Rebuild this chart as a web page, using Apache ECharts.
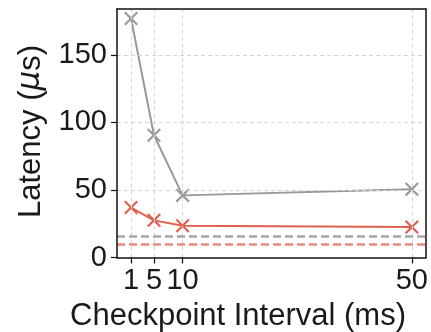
<!DOCTYPE html>
<html>
<head>
<meta charset="utf-8">
<script src="https://cdn.jsdelivr.net/npm/echarts@6/dist/echarts.min.js"></script>
<style>html,body{margin:0;padding:0;background:#fff}#c{width:431px;height:332px}</style>
</head>
<body>
<div id="c"></div>
<script>
var intervals = [1, 5, 10, 50];
var grayLatency = [177, 90.5, 46, 50.5];
var redLatency = [37, 27.5, 23.5, 22.5];
var grayBaseline = 15.7;
var redBaseline = 10;
var yTicks = [0, 50, 100, 150];

var FONT = '"Liberation Sans", Arial, sans-serif';
var GRAY = '#999999';
var RED = '#e0604f';
var XSYM = 'path://M0,1.1L1.1,0L5,3.9L8.9,0L10,1.1L6.1,5L10,8.9L8.9,10L5,6.1L1.1,10L0,8.9L3.9,5Z';

function pts(vals){ return intervals.map(function(x,i){ return [x, vals[i]]; }); }

var chart = echarts.init(document.getElementById('c'), null, {renderer:'canvas'});
var frameAxis = {show: true, onZero: false, lineStyle: {color: '#111', width: 1.5}};
chart.setOption({
  animation: false,
  grid: {left: 117, right: 2, top: 9, bottom: 74.5, show: false},
  xAxis: [{
    type: 'value', min: -1.45, max: 52.45,
    axisLine: frameAxis,
    axisTick: {show: true, customValues: intervals, length: 6, inside: false, lineStyle: {color: '#111', width: 1.2}},
    axisLabel: {customValues: intervals, fontFamily: FONT, fontSize: 29, color: '#1a1a1a', margin: 9},
    splitLine: {show: false}, z: 10
  }, {
    type: 'value', position: 'top', min: -1.45, max: 52.45,
    axisLine: frameAxis, axisTick: {show: false}, axisLabel: {show: false}, splitLine: {show: false}, z: 10
  }],
  yAxis: [{
    type: 'value', min: 0, max: 184, interval: 50,
    axisLine: frameAxis,
    axisTick: {show: true, length: 6, lineStyle: {color: '#111', width: 1.2}},
    axisLabel: {fontFamily: FONT, fontSize: 29, color: '#1a1a1a', margin: 10, showMaxLabel: false,
      formatter: function(v){ return yTicks.indexOf(v) >= 0 ? String(v) : ''; }},
    splitLine: {show: true, showMaxLine: false, showMinLine: false, lineStyle: {color: '#d4d4d4', type: [4, 3], width: 1}}, z: 10
  }, {
    type: 'value', position: 'right', min: 0, max: 184,
    axisLine: frameAxis, axisTick: {show: false}, axisLabel: {show: false}, splitLine: {show: false}, z: 10
  }],
  graphic: [
    {type: 'text', x: 238, y: 316, style: {text: 'Checkpoint Interval (ms)', font: '31px ' + FONT, fill: '#1a1a1a', align: 'center', verticalAlign: 'middle'}},
    {type: 'text', x: 31, y: 131.5, rotation: Math.PI/2, style: {
      text: '{n|Latency (}{m|μ}{n|s)}', align: 'center', verticalAlign: 'middle',
      rich: {n: {font: '31px ' + FONT, fill: '#1a1a1a'}, m: {font: 'italic 31px "DejaVu Sans", sans-serif', fill: '#1a1a1a'}}
    }}
  ],
  series: [
    {
      type: 'line', data: [], silent: true, z: 1,
      markLine: {silent: true, symbol: 'none', label: {show: false},
        lineStyle: {color: '#d4d4d4', type: [4, 3], width: 1},
        data: intervals.map(function(x){ return {xAxis: x}; })}
    },
    {
      type: 'line', data: [], silent: true, z: 2,
      markLine: {silent: true, symbol: 'none', label: {show: false},
        data: [
          {yAxis: grayBaseline, lineStyle: {color: '#a6a6a6', type: [8, 4], width: 2.5}},
          {yAxis: redBaseline, lineStyle: {color: '#ea8a7c', type: [8, 4], width: 2.5}}
        ]}
    },
    {
      type: 'line', data: pts(grayLatency), z: 3,
      lineStyle: {color: GRAY, width: 2}, itemStyle: {color: GRAY},
      symbol: XSYM, symbolSize: 14, showAllSymbol: true
    },
    {
      type: 'line', data: pts(redLatency), z: 4,
      lineStyle: {color: RED, width: 2}, itemStyle: {color: RED},
      symbol: XSYM, symbolSize: 14, showAllSymbol: true
    }
  ]
});
</script>
</body>
</html>
